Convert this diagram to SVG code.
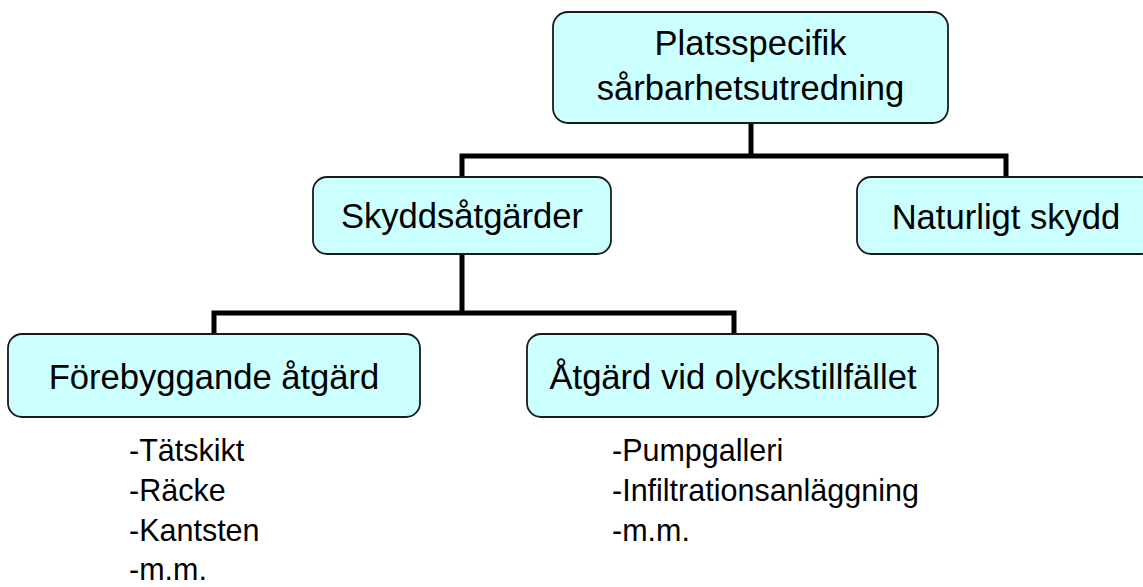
<svg xmlns="http://www.w3.org/2000/svg" width="1143" height="587" viewBox="0 0 1143 587">
<style>
.box{fill:#CCFFFF;stroke:#1a1a1a;stroke-width:1.8}
.lbl{font-family:"Liberation Sans",Arial,sans-serif;font-size:34.6px;fill:#000;text-anchor:middle}
.lst{font-family:"Liberation Sans",Arial,sans-serif;font-size:30.5px;fill:#000}
.con{fill:none;stroke:#000;stroke-width:5;stroke-linejoin:miter}
</style>
<rect width="1143" height="587" fill="#fff"/>
<g id="connectors">
<path class="con" d="M751,123 V156"/>
<path class="con" d="M462,177 V156 H1006 V177"/>
<path class="con" d="M462,254 V313"/>
<path class="con" d="M214,334 V313 H734 V334"/>
</g>
<g id="node-platsspecifik">
<rect class="box" x="553" y="12" width="395" height="111" rx="15"/>
<text class="lbl" x="750.5" y="55">Platsspecifik</text>
<text class="lbl" x="750.5" y="100">sårbarhetsutredning</text>
</g>
<g id="node-skyddsatgarder">
<rect class="box" x="313" y="177" width="298" height="77" rx="14"/>
<text class="lbl" x="462" y="228">Skyddsåtgärder</text>
</g>
<g id="node-naturligt">
<rect class="box" x="857" y="177" width="298" height="77" rx="14"/>
<text class="lbl" x="1006" y="229">Naturligt skydd</text>
</g>
<g id="node-forebyggande">
<rect class="box" x="8" y="334" width="412" height="83" rx="14"/>
<text class="lbl" x="214" y="389">Förebyggande åtgärd</text>
</g>
<g id="node-atgard">
<rect class="box" x="527" y="334" width="411" height="83" rx="14"/>
<text class="lbl" x="733" y="389">Åtgärd vid olyckstillfället</text>
</g>
<g id="list-forebyggande">
<text class="lst" x="129" y="461">-Tätskikt</text>
<text class="lst" x="129" y="501">-Räcke</text>
<text class="lst" x="129" y="541">-Kantsten</text>
<text class="lst" x="129" y="580">-m.m.</text>
</g>
<g id="list-atgard">
<text class="lst" x="612" y="461">-Pumpgalleri</text>
<text class="lst" x="612" y="501">-Infiltrationsanläggning</text>
<text class="lst" x="612" y="541">-m.m.</text>
</g>
</svg>
